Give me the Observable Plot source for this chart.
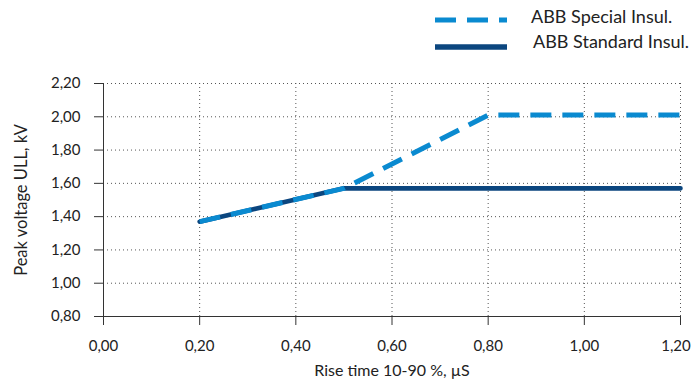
<!DOCTYPE html>
<html><head><meta charset="utf-8">
<script src="https://cdn.jsdelivr.net/npm/d3@7"></script>
<script src="https://cdn.jsdelivr.net/npm/@observablehq/plot@0.6"></script>
<style>
body{margin:0;background:#fff;font-family:Lato,sans-serif;}
#legend{position:relative;height:62px;width:691px;}
#legend svg{position:absolute;left:0;top:0;}
#legend span{position:absolute;font-size:18px;color:#222;line-height:20px;white-space:nowrap;}
</style></head><body>
<div id="legend"></div><div id="chart"></div>
<script>
const seriesNames = ["ABB Special Insul.", "ABB Standard Insul."];
const specialRise = [0.2, 0.5, 0.8, 1.2];
const specialValues = [1.37, 1.57, 2.01, 2.01];
const standardRise = [0.2, 0.5, 1.2];
const standardValues = [1.37, 1.57, 1.57];
const xTicks = [0, 0.2, 0.4, 0.6, 0.8, 1.0, 1.2];
const yTicks = [0.8, 1.0, 1.2, 1.4, 1.6, 1.8, 2.0, 2.2];
const xLabel = "Rise time 10-90 %, µS";
const yLabel = "Peak voltage ULL, kV";

const specialColor = "#0a8ad0";
const standardColor = "#0b467f";

const special = specialRise.map((x, i) => ({x, y: specialValues[i]}));
const standard = standardRise.map((x, i) => ({x, y: standardValues[i]}));
const fmt = d => d.toFixed(2).replace(".", ",");
const lastX = xTicks[xTicks.length - 1];

// legend
const leg = document.getElementById("legend");
leg.innerHTML = `<svg width="691" height="62">
<line x1="435" x2="507" y1="20" y2="20" stroke="${specialColor}" stroke-width="5" stroke-dasharray="21,11"/>
<line x1="435" x2="507" y1="47" y2="47" stroke="${standardColor}" stroke-width="5.5"/>
</svg>
<span style="left:531px;top:6px">${seriesNames[0]}</span>
<span style="left:533px;top:31px">${seriesNames[1]}</span>`;

const fs = 15;
const chart = Plot.plot({
  width: 691, height: 321,
  marginTop: 21, marginLeft: 103, marginRight: 11, marginBottom: 67,
  style: {fontFamily: 'Lato, sans-serif', fontSize: "15px", color: "#222", background: "#fff"},
  x: {domain: [0, 1.2]},
  y: {domain: [0.8, 2.2]},
  marks: [
    Plot.gridX(xTicks.slice(1), {stroke: "#555", strokeOpacity: 1, strokeDasharray: "1,3"}),
    Plot.gridY(yTicks.slice(1), {stroke: "#555", strokeOpacity: 1, strokeDasharray: "1,3"}),
    Plot.ruleX([0], {stroke: "#333"}),
    Plot.ruleY([0.8], {stroke: "#333"}),
    Plot.axisX(xTicks, {tickSize: 9, tickPadding: 15, tickFormat: d => d === lastX ? "" : fmt(d), label: null, stroke: "#333", fill: "#222", fontSize: fs}),
    Plot.text([lastX], {x: d => d, text: fmt, frameAnchor: "bottom", lineAnchor: "top", dy: 24, dx: -4.5, fill: "#222", fontSize: fs}),
    Plot.axisY(yTicks, {tickSize: 9, tickPadding: 14, tickFormat: fmt, label: null, stroke: "#333", fill: "#222", fontSize: fs}),
    Plot.text([xLabel], {frameAnchor: "bottom", dy: 59, fill: "#222", fontSize: 16}),
    Plot.text([yLabel], {frameAnchor: "left", textAnchor: "middle", rotate: -90, dx: -82, fill: "#222", fontSize: 16.5}),
    Plot.line(standard, {x: "x", y: "y", stroke: standardColor, strokeWidth: 4.6, strokeLinecap: "round"}),
    Plot.line(special, {x: "x", y: "y", stroke: specialColor, strokeWidth: 5, strokeDasharray: "21,11", strokeLinecap: "butt", strokeLinejoin: "miter"})
  ]
});
document.getElementById("chart").appendChild(chart);
</script>
</body></html>
